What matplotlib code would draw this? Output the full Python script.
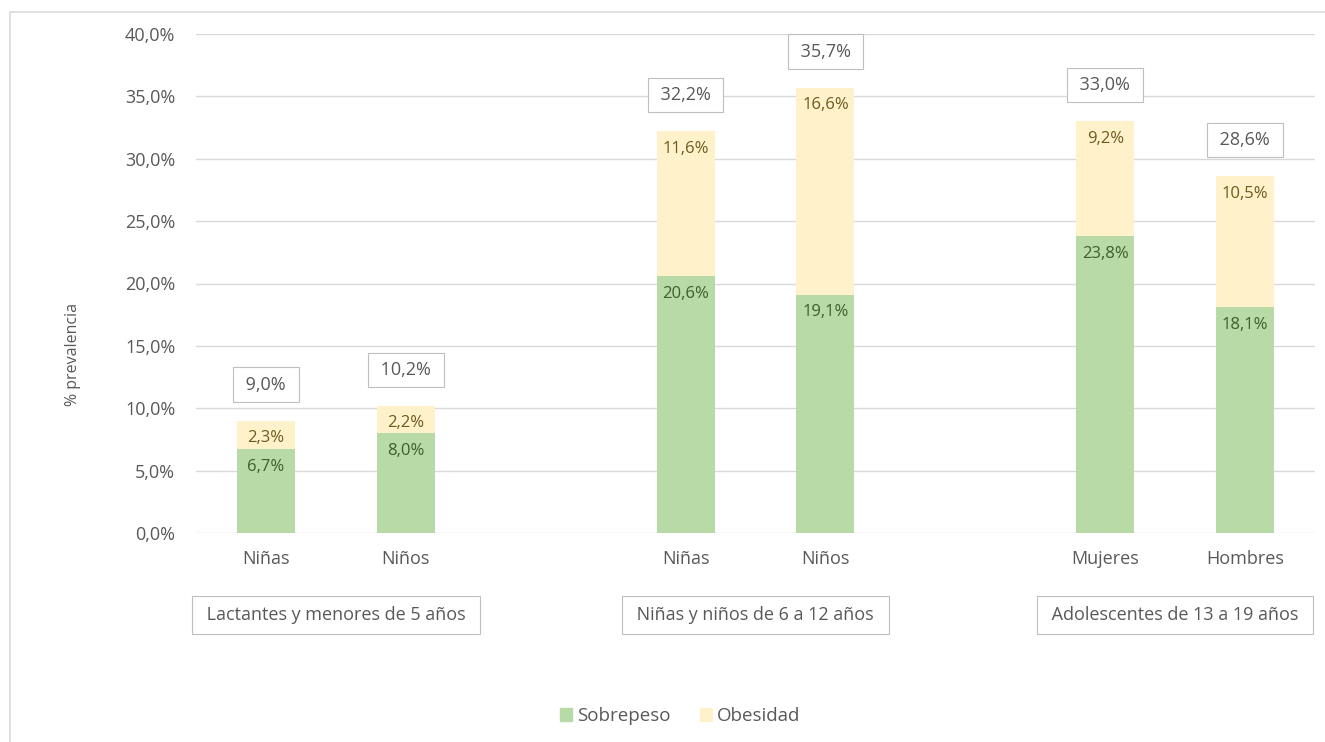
import matplotlib.pyplot as plt
from matplotlib.patches import Rectangle, Patch
from matplotlib.ticker import FuncFormatter

plt.rcParams["font.family"] = ["Open Sans", "DejaVu Sans"]

# data
categories = ["Niñas", "Niños", "Niñas", "Niños", "Mujeres", "Hombres"]
groups = ["Lactantes y menores de 5 años", "Niñas y niños de 6 a 12 años",
          "Adolescentes de 13 a 19 años"]
sobrepeso = [6.7, 8.0, 20.6, 19.1, 23.8, 18.1]
obesidad = [2.3, 2.2, 11.6, 16.6, 9.2, 10.5]
totales = [9.0, 10.2, 32.2, 35.7, 33.0, 28.6]
positions = [0, 1, 3, 4, 6, 7]

GREEN = "#B7DAA7"
YELLOW = "#FFF1C9"
GRAY_TXT = "#595959"


def pct(v):
    return f"{v:.1f}%".replace(".", ",")


fig = plt.figure(figsize=(13.25, 7.42), dpi=100)
ax = fig.add_axes([196 / 1325, 1 - 533 / 742, (1315 - 196) / 1325, (533 - 34) / 742])

# outer frame like the Excel chart area
fig.patches.append(Rectangle((10 / 1325, -0.01), 1.0, 1 - 12 / 742 + 0.01,
                             transform=fig.transFigure, fill=False,
                             edgecolor="#D9D9D9", linewidth=1.2))

w = 0.415
ax.bar(positions, sobrepeso, width=w, color=GREEN, zorder=2, label="Sobrepeso")
ax.bar(positions, obesidad, width=w, bottom=sobrepeso, color=YELLOW, zorder=2,
       label="Obesidad")

box = dict(boxstyle="square,pad=0.45", fc="white", ec="#BFBFBF", lw=0.8)
for x, s, o, t in zip(positions, sobrepeso, obesidad, totales):
    ax.annotate(pct(s), (x, s), xytext=(0, -7), textcoords="offset points",
                ha="center", va="top", fontsize=12, color="#3B5E2B")
    ax.annotate(pct(o), (x, s + o), xytext=(0, -7), textcoords="offset points",
                ha="center", va="top", fontsize=12, color="#6E5A1E")
    ax.annotate(" " + pct(t) + " ", (x, t), xytext=(0, 26), textcoords="offset points",
                ha="center", va="center", fontsize=13, color=GRAY_TXT, bbox=box)

ax.set_ylim(0, 40)
ax.set_xlim(-0.5, 7.5)
ax.set_yticks(range(0, 41, 5))
ax.yaxis.set_major_formatter(FuncFormatter(lambda v, _: pct(v)))
ax.set_xticks(positions)
ax.set_xticklabels(categories)
ax.tick_params(axis="both", length=0, labelsize=13, colors=GRAY_TXT)
ax.tick_params(axis="y", pad=15)
ax.tick_params(axis="x", pad=12)
ax.grid(axis="y", color="#D9D9D9", linewidth=1, zorder=0)
for sp in ax.spines.values():
    sp.set_visible(False)
ax.set_ylabel("% prevalencia", fontsize=11.5, color=GRAY_TXT)
ax.yaxis.set_label_coords(-0.103, 0.357)

# group labels
gbox = dict(boxstyle="square,pad=0.55", fc="white", ec="#BFBFBF", lw=0.8)
for i, g in enumerate(groups):
    xc = (positions[2 * i] + positions[2 * i + 1]) / 2
    ax.annotate(" " + g + " ", (xc, 0), xytext=(0, -59), textcoords="offset points",
                ha="center", va="center", fontsize=13, color=GRAY_TXT,
                annotation_clip=False, bbox=gbox)

handles = [Patch(color=GREEN, label="Sobrepeso"), Patch(color=YELLOW, label="Obesidad")]
fig.legend(handles=handles, loc="center", bbox_to_anchor=(680 / 1325, 1 - 716 / 742),
           ncol=2, frameon=False, fontsize=13.5, handlelength=0.65, handleheight=0.65,
           handletextpad=0.25, columnspacing=1.6, labelcolor=GRAY_TXT)

fig.savefig("out.png", dpi=100)
